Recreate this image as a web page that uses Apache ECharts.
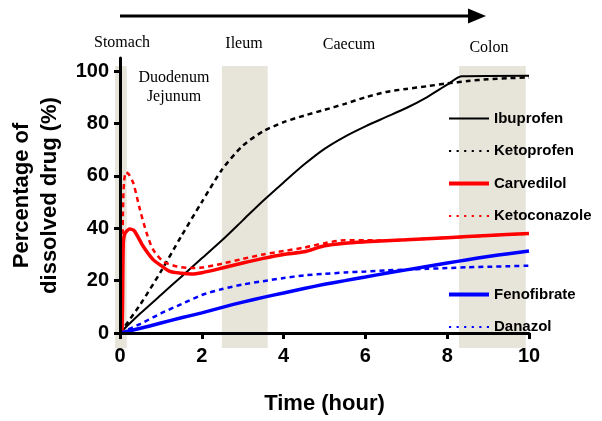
<!DOCTYPE html>
<html>
<head>
<meta charset="utf-8">
<script src="https://cdn.jsdelivr.net/npm/echarts@6/dist/echarts.min.js"></script>
<style>html,body{margin:0;padding:0;background:#fff}#c{width:602px;height:421px}</style>
</head>
<body>
<div id="c"></div>
<script>
// ---- data ----
const yTicks = [0, 20, 40, 60, 80, 100];
const xTicks = [0, 2, 4, 6, 8, 10];
const ibuprofen = [[0,0],[0.5,7.5],[1,14.5],[1.5,21.5],[2,28.5],[2.5,35.5],[3,43],[3.5,50.5],[4,57.5],[4.5,64.3],[5,70.3],[5.5,75],[6,78.9],[6.5,82.4],[7,85.9],[7.5,90],[8,94.8],[8.35,98],[10,98.2]];
const ketoprofen = [[0,0],[0.5,11],[1,23.5],[1.5,37],[2,50],[2.5,62.5],[3,71.5],[3.5,77],[4,80.5],[4.5,83],[5,85.2],[5.5,87.5],[6,90],[6.5,92],[7,93.2],[7.5,94.2],[8,95.3],[8.5,96.2],[9,96.9],[9.5,97.3],[10,97.6]];
const carvedilol = [[0,0],[0.05,1],[0.08,34],[0.12,38],[0.24,39.7],[0.35,39],[0.57,33],[0.81,28],[1,25.8],[1.22,23.5],[1.5,22.8],[1.75,22.5],[2,23],[2.5,24.8],[3,26.7],[3.5,28.5],[4,30],[4.5,31],[5,33.3],[5.5,34.3],[6,34.8],[7,35.6],[8,36.4],[9,37.2],[10,38]];
const ketoconazole = [[0,0],[0.04,2],[0.07,45],[0.1,58],[0.15,61.4],[0.22,60.5],[0.33,57],[0.49,47],[0.65,38.2],[0.81,31.8],[1.06,27.3],[1.39,25.4],[1.71,24.8],[2,25],[2.5,26.5],[3,28.3],[3.5,30],[4,31.3],[4.5,32.6],[5,34.3],[5.5,35.4],[6,35.4],[6.5,35.3],[7,35.6],[8,36.4],[9,37.2],[10,38]];
const fenofibrate = [[0,0],[0.5,1.8],[1,3.8],[1.5,5.8],[2,7.7],[2.5,9.8],[3,11.8],[3.5,13.6],[4,15.3],[4.5,17],[5,18.6],[5.5,20],[6,21.4],[6.5,22.8],[7,24.1],[7.5,25.4],[8,26.7],[8.5,28],[9,29.2],[9.5,30.3],[10,31.3]];
const danazol = [[0,0],[0.5,3.5],[1,7.5],[1.5,11],[2,14.5],[2.5,16.8],[3,18.5],[3.5,19.8],[4,21],[4.5,22],[5,22.6],[5.5,23.1],[6,23.5],[6.5,23.9],[7,24.2],[7.5,24.5],[8,24.8],[8.5,25.1],[9,25.3],[9.5,25.5],[10,25.7]];
const bands = [[-0.12, 0.165], [2.49, 3.61], [8.29, 9.92]];
const regionLabels = ['Stomach', 'Ileum', 'Caecum', 'Colon', 'Duodenum', 'Jejunum'];

// ---- chart ----
const chart = echarts.init(document.getElementById('c'), null, {renderer: 'canvas'});
const SANS = 'Arial, "Liberation Sans", sans-serif';
const SERIF = '"Times New Roman", "Liberation Serif", serif';
const RED = '#ff0000', BLUE = '#0000ff', BLACK = '#000000';
const DASH = [5, 4];

function lineSeries(name, data, color, width, dashed, z) {
  return {
    name, type: 'line', data, xAxisIndex: 0, yAxisIndex: 0,
    showSymbol: false, symbol: 'none', smooth: 0.25, z,
    lineStyle: {color, width, type: dashed ? DASH : 'solid'},
    itemStyle: {color}
  };
}

const legendText = {fontFamily: SANS, fontWeight: 'bold', fontSize: 15, color: '#000'};
const DOTS = 'path://M0,6 L2,6 L2,8 L0,8 Z M7,6 L9,6 L9,8 L7,8 Z M14,6 L16,6 L16,8 L14,8 Z M21,6 L23,6 L23,8 L21,8 Z M28,6 L30,6 L30,8 L28,8 Z M35,6 L37,6 L37,8 L35,8 Z';
const THIN = 'path://M0,6 L40,6 L40,8 L0,8 Z';
const THICK = 'path://M0,5 L40,5 L40,9 L0,9 Z';

chart.setOption({
  animation: false,
  backgroundColor: '#fff',
  grid: [
    {left: 120, right: 73, top: 58, bottom: 88, outerBoundsMode: 'none', containLabel: false},
    {left: 120 - 0.2 * 40.9, right: 73, top: 66, bottom: 73, outerBoundsMode: 'none', containLabel: false}
  ],
  xAxis: [
    {
      type: 'value', gridIndex: 0, min: 0, max: 10, interval: 2, z: 5,
      name: 'Time (hour)', nameLocation: 'middle', nameGap: 60,
      nameTextStyle: {fontFamily: SANS, fontWeight: 'bold', fontSize: 22, color: '#000'},
      axisLine: {lineStyle: {color: '#000', width: 3}},
      axisTick: {show: true, length: 6, lineStyle: {color: '#000', width: 3}, customValues: xTicks},
      axisLabel: {customValues: xTicks, margin: 13, fontFamily: SANS, fontWeight: 'bold', fontSize: 20, color: '#000'},
      splitLine: {show: false}
    },
    {type: 'value', gridIndex: 1, min: -0.2, max: 10, show: false}
  ],
  yAxis: [
    {
      type: 'value', gridIndex: 0, min: 0, max: 105, z: 5,
      name: 'Percentage of\ndissolved drug (%)', nameLocation: 'middle', nameGap: 56, nameRotate: 90,
      nameTextStyle: {fontFamily: SANS, fontWeight: 'bold', fontSize: 22, color: '#000', lineHeight: 28},
      axisLine: {show: true, lineStyle: {color: '#000', width: 3}},
      axisTick: {show: true, length: 6, lineStyle: {color: '#000', width: 3}, customValues: yTicks},
      axisLabel: {customValues: yTicks, margin: 11, fontFamily: SANS, fontWeight: 'bold', fontSize: 20, color: '#000'},
      splitLine: {show: false}
    },
    {type: 'value', gridIndex: 1, min: 0, max: 1, show: false}
  ],
  legend: [
    {
      orient: 'vertical', left: 444, top: 106, itemWidth: 40, itemHeight: 14, itemGap: 17.5,
      textStyle: legendText,
      data: [
        {name: 'Ibuprofen', icon: THIN, itemStyle: {color: BLACK}},
        {name: 'Ketoprofen', icon: DOTS, itemStyle: {color: BLACK}},
        {name: 'Carvedilol', icon: THICK, itemStyle: {color: RED}},
        {name: 'Ketoconazole', icon: DOTS, itemStyle: {color: RED}}
      ]
    },
    {
      orient: 'vertical', left: 444, top: 282, itemWidth: 40, itemHeight: 14, itemGap: 17.5,
      textStyle: legendText,
      data: [
        {name: 'Fenofibrate', icon: THICK, itemStyle: {color: BLUE}},
        {name: 'Danazol', icon: DOTS, itemStyle: {color: BLUE}}
      ]
    }
  ],
  graphic: [
    {type: 'line', shape: {x1: 120, y1: 16, x2: 472, y2: 16}, style: {stroke: '#000', lineWidth: 3}},
    {type: 'polygon', shape: {points: [[468, 8.5], [486, 16], [468, 23.5]]}, style: {fill: '#000'}},
    {type: 'text', x: 122, y: 43, style: {text: regionLabels[0], font: '16px ' + SERIF, fill: '#000', align: 'center', verticalAlign: 'middle'}},
    {type: 'text', x: 244, y: 44, style: {text: regionLabels[1], font: '16px ' + SERIF, fill: '#000', align: 'center', verticalAlign: 'middle'}},
    {type: 'text', x: 349, y: 45, style: {text: regionLabels[2], font: '16px ' + SERIF, fill: '#000', align: 'center', verticalAlign: 'middle'}},
    {type: 'text', x: 489, y: 48, style: {text: regionLabels[3], font: '16px ' + SERIF, fill: '#000', align: 'center', verticalAlign: 'middle'}},
    {type: 'text', x: 174, y: 78, style: {text: regionLabels[4], font: '16px ' + SERIF, fill: '#000', align: 'center', verticalAlign: 'middle'}},
    {type: 'text', x: 174, y: 97, style: {text: regionLabels[5], font: '16px ' + SERIF, fill: '#000', align: 'center', verticalAlign: 'middle'}}
  ],
  series: [
    {
      type: 'line', xAxisIndex: 1, yAxisIndex: 1, data: [], z: 1, silent: true,
      markArea: {
        silent: true,
        itemStyle: {color: '#e7e4da'},
        data: bands.map(b => [{xAxis: b[0]}, {xAxis: b[1]}])
      }
    },
    lineSeries('Ibuprofen', ibuprofen, BLACK, 2, false, 3),
    lineSeries('Ketoprofen', ketoprofen, BLACK, 2.5, true, 3),
    lineSeries('Ketoconazole', ketoconazole, RED, 2.5, true, 3),
    lineSeries('Carvedilol', carvedilol, RED, 3.5, false, 4),
    lineSeries('Danazol', danazol, BLUE, 2.5, true, 3),
    lineSeries('Fenofibrate', fenofibrate, BLUE, 3.5, false, 4)
  ]
});
</script>
</body>
</html>
